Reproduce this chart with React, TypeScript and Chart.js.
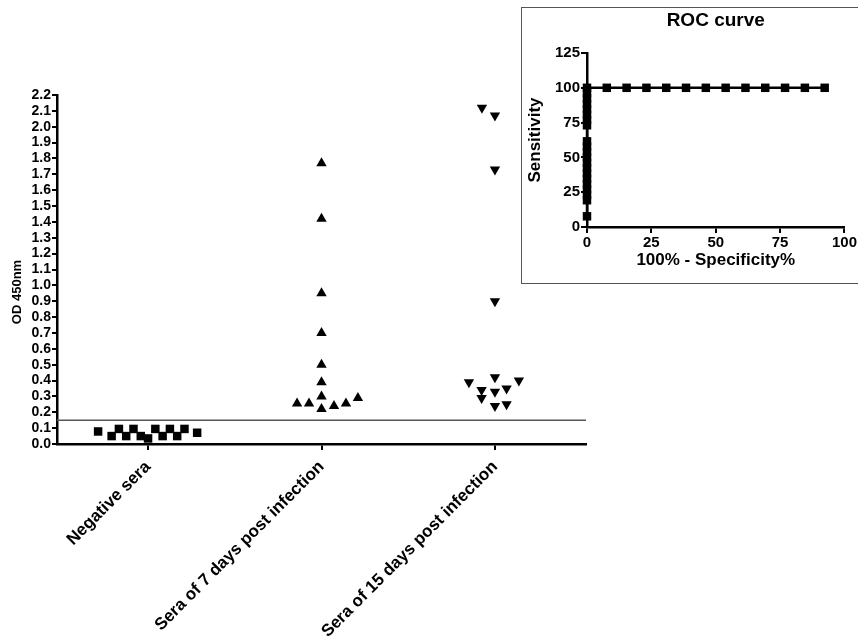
import React, { useEffect, useRef } from "react";
import { Chart, registerables } from "chart.js";

Chart.register(...registerables);

// ---------- data ----------
const categories = [
  "Negative sera",
  "Sera of 7 days post infection",
  "Sera of 15 days post infection",
];
const yTickValues = [
  0.0, 0.1, 0.2, 0.3, 0.4, 0.5, 0.6, 0.7, 0.8, 0.9, 1.0, 1.1,
  1.2, 1.3, 1.4, 1.5, 1.6, 1.7, 1.8, 1.9, 2.0, 2.1, 2.2,
];
const xCategoryTicks = [1, 2, 3];

// column-scatter values (OD 450nm) and their spread inside each column
const negativeValues = [0.079, 0.05, 0.095, 0.05, 0.095, 0.05, 0.035, 0.095, 0.05, 0.095, 0.05, 0.095, 0.071];
const negativeSpread = [-0.288, -0.21, -0.168, -0.126, -0.084, -0.042, 0.0, 0.042, 0.084, 0.126, 0.168, 0.21, 0.283];

const day7Values = [1.77, 1.42, 0.95, 0.7, 0.5, 0.39, 0.3, 0.255, 0.255, 0.22, 0.24, 0.255, 0.29];
const day7Spread = [0, 0, 0, 0, 0, 0, 0, -0.141, -0.072, 0, 0.072, 0.141, 0.21];

const day15Values = [2.12, 2.07, 1.73, 0.9, 0.39, 0.42, 0.4, 0.34, 0.29, 0.33, 0.35, 0.24, 0.25];
const day15Spread = [-0.075, 0, 0, 0, -0.15, 0, 0.138, -0.077, -0.077, 0, 0.067, 0, 0.067];

const cutoffValue = 0.15;
const xRange = [0.475, 3.525];

// ROC curve
const rocFalsePositive = [
  0, 0, 0, 0, 0, 0, 0, 0, 0, 0, 0, 0, 0, 0, 0, 0, 0, 0, 0, 0, 0,
  7.69, 15.38, 23.08, 30.77, 38.46, 46.15, 53.85, 61.54, 69.23, 76.92, 84.62, 92.31,
];
const rocSensitivity = [
  7.69, 19.23, 23.08, 26.92, 30.77, 34.62, 38.46, 42.31, 46.15, 50, 53.85, 57.69, 61.54,
  73.08, 76.92, 80.77, 84.62, 88.46, 92.31, 96.15, 100,
  100, 100, 100, 100, 100, 100, 100, 100, 100, 100, 100, 100,
];
const rocXTicks = [0, 25, 50, 75, 100];
const rocYTicks = [0, 25, 50, 75, 100, 125];

// ---------- styling ----------
const FONT = "'Liberation Sans', Arial, Helvetica, sans-serif";
const BLACK = "#000";

function textPlugin(id: string, draw: (chart: any, ctx: CanvasRenderingContext2D) => void) {
  return {
    id,
    afterDraw(chart: any) {
      const ctx = chart.ctx as CanvasRenderingContext2D;
      ctx.save();
      draw(chart, ctx);
      ctx.restore();
    },
  };
}

function MainChart() {
  const ref = useRef<HTMLCanvasElement | null>(null);
  useEffect(() => {
    if (!ref.current) return;
    const pointCommon = {
      backgroundColor: BLACK,
      borderColor: BLACK,
      borderWidth: 0,
      pointRadius: 6,
      pointHoverRadius: 6,
      showLine: false,
      clip: false,
    };
    const chart = new Chart(ref.current, {
      type: "scatter",
      data: {
        datasets: [
          {
            label: "cutoff",
            data: [
              { x: xRange[0], y: cutoffValue },
              { x: xRange[1], y: cutoffValue },
            ],
            showLine: true,
            borderColor: "#555",
            borderWidth: 1.5,
            pointRadius: 0,
            pointHoverRadius: 0,
          },
          {
            ...pointCommon,
            label: categories[0],
            data: negativeValues.map((v, i) => ({ x: 1 + negativeSpread[i], y: v })),
            pointStyle: "rect",
          },
          {
            ...pointCommon,
            label: categories[1],
            data: day7Values.map((v, i) => ({ x: 2 + day7Spread[i], y: v })),
            pointStyle: "triangle",
          },
          {
            ...pointCommon,
            label: categories[2],
            data: day15Values.map((v, i) => ({ x: 3 + day15Spread[i], y: v })),
            pointStyle: "triangle",
            pointRotation: 180,
          },
        ] as any,
      },
      options: {
        animation: false,
        responsive: false,
        maintainAspectRatio: false,
        layout: { padding: { left: 0, top: 95, right: 14, bottom: 0 } },
        plugins: {
          legend: { display: false },
          tooltip: { enabled: false },
        },
        scales: {
          x: {
            type: "linear",
            min: xRange[0],
            max: xRange[1],
            afterBuildTicks: (s: any) => {
              s.ticks = xCategoryTicks.map((v) => ({ value: v }));
            },
            afterFit: (s: any) => {
              s.height = 197;
            },
            ticks: {
              autoSkip: false,
              maxRotation: 45,
              minRotation: 45,
              padding: 7,
              color: BLACK,
              font: { family: FONT, size: 17, weight: "bold" },
              callback: (v: any) => categories[Math.round(Number(v)) - 1] ?? "",
            },
            grid: { drawOnChartArea: false, drawTicks: true, tickLength: 6, color: BLACK, lineWidth: 2 },
            border: { display: true, color: BLACK, width: 2.5 },
          },
          y: {
            type: "linear",
            min: 0,
            max: 2.2,
            afterBuildTicks: (s: any) => {
              s.ticks = yTickValues.map((v) => ({ value: v }));
            },
            afterFit: (s: any) => {
              s.width = 57;
            },
            ticks: {
              autoSkip: false,
              padding: 1,
              color: BLACK,
              font: { family: FONT, size: 14, weight: "bold" },
              callback: (v: any) => Number(v).toFixed(1),
            },
            grid: { drawOnChartArea: false, drawTicks: true, tickLength: 5, color: BLACK, lineWidth: 2 },
            border: { display: true, color: BLACK, width: 2.5 },
          },
        },
      } as any,
      plugins: [
        textPlugin("yTitle", (chart, ctx) => {
          const a = chart.chartArea;
          ctx.translate(a.left - 40, a.top + 197);
          ctx.rotate(-Math.PI / 2);
          ctx.font = `bold 13px ${FONT}`;
          ctx.fillStyle = BLACK;
          ctx.textAlign = "center";
          ctx.textBaseline = "middle";
          ctx.fillText("OD 450nm", 0, 0);
        }),
      ],
    });
    return () => chart.destroy();
  }, []);
  return (
    <canvas
      ref={ref}
      width={600}
      height={641}
      style={{ position: "absolute", left: 0, top: 0, width: 600, height: 641 }}
    />
  );
}

function RocChart() {
  const ref = useRef<HTMLCanvasElement | null>(null);
  useEffect(() => {
    if (!ref.current) return;
    const chart = new Chart(ref.current, {
      type: "scatter",
      data: {
        datasets: [
          {
            label: "ROC",
            data: rocSensitivity.map((s, i) => ({ x: rocFalsePositive[i], y: s })),
            showLine: true,
            clip: false,
            borderColor: BLACK,
            borderWidth: 2.5,
            backgroundColor: BLACK,
            pointStyle: "rect",
            pointRadius: 6,
            pointHoverRadius: 6,
            pointBorderWidth: 0,
          },
        ] as any,
      },
      options: {
        animation: false,
        responsive: false,
        maintainAspectRatio: false,
        layout: { padding: { left: 0, top: 44, right: 10, bottom: 0 } },
        plugins: {
          legend: { display: false },
          tooltip: { enabled: false },
        },
        scales: {
          x: {
            type: "linear",
            min: 0,
            max: 100,
            afterBuildTicks: (s: any) => {
              s.ticks = rocXTicks.map((v) => ({ value: v }));
            },
            afterFit: (s: any) => {
              s.height = 55;
            },
            title: {
              display: true,
              text: "100% - Specificity%",
              color: BLACK,
              font: { family: FONT, size: 17, weight: "bold" },
              padding: { top: 0, bottom: 11 },
            },
            ticks: {
              autoSkip: false,
              maxRotation: 0,
              padding: 1,
              color: BLACK,
              font: { family: FONT, size: 15, weight: "bold" },
            },
            grid: { drawOnChartArea: false, drawTicks: true, tickLength: 6, color: BLACK, lineWidth: 2 },
            border: { display: true, color: BLACK, width: 2.5 },
          },
          y: {
            type: "linear",
            min: 0,
            max: 125,
            afterBuildTicks: (s: any) => {
              s.ticks = rocYTicks.map((v) => ({ value: v }));
            },
            afterFit: (s: any) => {
              s.width = 64;
            },
            title: {
              display: true,
              text: "Sensitivity",
              color: BLACK,
              font: { family: FONT, size: 17, weight: "bold" },
              padding: { top: 2, bottom: 0 },
            },
            ticks: {
              autoSkip: false,
              padding: 1,
              color: BLACK,
              font: { family: FONT, size: 15, weight: "bold" },
            },
            grid: { drawOnChartArea: false, drawTicks: true, tickLength: 6, color: BLACK, lineWidth: 2 },
            border: { display: true, color: BLACK, width: 2.5 },
          },
        },
      } as any,
      plugins: [
        textPlugin("rocTitle", (chart, ctx) => {
          const a = chart.chartArea;
          ctx.font = `bold 19px ${FONT}`;
          ctx.fillStyle = BLACK;
          ctx.textAlign = "center";
          ctx.textBaseline = "middle";
          ctx.fillText("ROC curve", (a.left + a.right) / 2, a.top - 32);
        }),
      ],
    });
    return () => chart.destroy();
  }, []);
  return (
    <canvas
      ref={ref}
      width={335}
      height={273}
      style={{ position: "absolute", left: 523, top: 9, width: 335, height: 273 }}
    />
  );
}

export default function App() {
  return (
    <div
      style={{
        position: "absolute",
        left: 0,
        top: 0,
        width: 858,
        height: 641,
        overflow: "hidden",
        background: "#fff",
      }}
    >
      <MainChart />
      <div
        style={{
          position: "absolute",
          left: 521,
          top: 7,
          width: 345,
          height: 277,
          boxSizing: "border-box",
          border: "1.5px solid #555",
          background: "#fff",
        }}
      />
      <RocChart />
    </div>
  );
}
